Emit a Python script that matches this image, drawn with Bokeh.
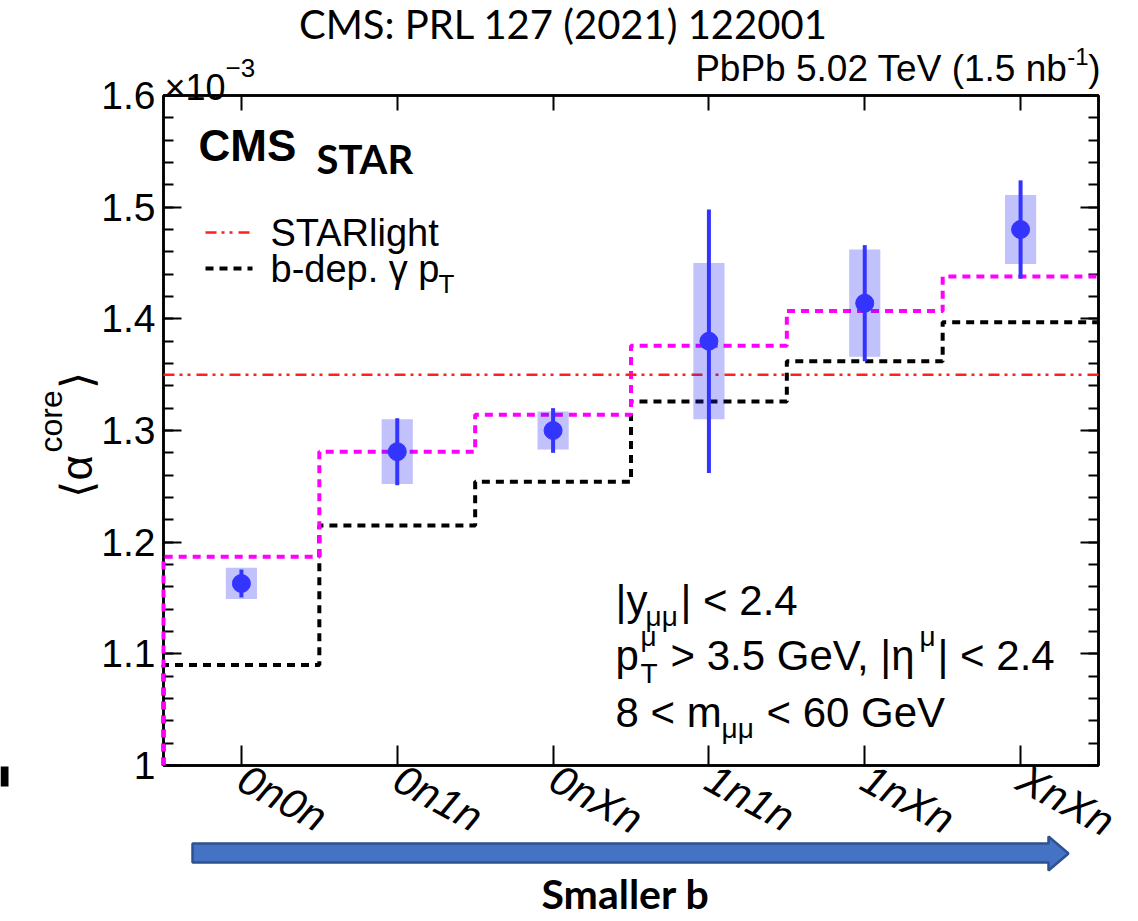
import numpy as np
from bokeh.plotting import figure
from bokeh.models import (Range1d, LinearAxis, FixedTicker, CustomJSTickFormatter,
                          Label, GridBox, Column)
from bokeh.embed import file_html
from bokeh.resources import INLINE

# ---- data: <alpha^core> in units of 1e-3 per neutron class ----
categories = ["0n0n", "0n1n", "0nXn", "1n1n", "1nXn", "XnXn"]
alpha_core = [1.163, 1.281, 1.300, 1.380, 1.414, 1.480]
stat_err = [0.0125, 0.030, 0.020, 0.118, 0.052, 0.044]
syst_err = [0.014, 0.029, 0.017, 0.070, 0.048, 0.031]
starlight = [1.35, 1.35]
bdep_gamma_pt = [1.090, 1.215, 1.254, 1.326, 1.362, 1.397]
star_model = [1.187, 1.281, 1.314, 1.376, 1.407, 1.438]
y_ticks = [1.0, 1.1, 1.2, 1.3, 1.4, 1.5, 1.6]
y_tick_labels = ["1", "1.1", "1.2", "1.3", "1.4", "1.5", "1.6"]

W, H = 1138, 921
LEFT, RIGHT, TOP, BOTTOM = 163, 1098, 95, 765
Y0, Y1 = 1.0, 1.6
nbin = len(categories)
HELV = "Liberation Sans"
RED = "#ff2020"
MAGENTA = "#ff00ff"
BLUE = "#3434ff"
RED_DASH = "11 5 3 5 3 6"
DOT_DASH = "8 6"

# ================= main plot =================
p = figure(width=W, height=H, x_range=Range1d(0, nbin), y_range=Range1d(Y0, Y1),
           output_backend="svg", toolbar_location=None,
           x_axis_location=None, y_axis_location=None,
           min_border_left=LEFT, min_border_right=W - RIGHT,
           min_border_top=TOP, min_border_bottom=H - BOTTOM)
p.grid.visible = False
p.outline_line_color = "black"
p.outline_line_width = 2.5
p.background_fill_color = "white"
p.border_fill_color = "white"

centers = np.arange(nbin) + 0.5
minor = [round(v, 3) for v in np.arange(1.0, 1.6001, 0.02)]

axis_style = dict(axis_line_color="black", axis_line_width=2.5,
                  major_tick_line_color="black", major_tick_line_width=2,
                  minor_tick_line_color="black", minor_tick_line_width=2,
                  major_tick_out=0, minor_tick_out=0,
                  major_label_text_color="black")

bottom_axis = LinearAxis(
    ticker=FixedTicker(ticks=list(centers)),
    formatter=CustomJSTickFormatter(args=dict(names=categories),
                                    code="return names[Math.floor(tick)];"),
    major_tick_in=20, minor_tick_in=0,
    major_label_text_font=HELV, major_label_text_font_style="italic",
    major_label_text_font_size="42px", major_label_orientation=-0.5,
    major_label_standoff=10, **axis_style)
p.add_layout(bottom_axis, "below")

top_axis = LinearAxis(
    ticker=FixedTicker(ticks=list(centers)),
    formatter=CustomJSTickFormatter(code="return '';"),
    major_tick_in=15, minor_tick_in=0, major_label_text_font_size="1px",
    **axis_style)
p.add_layout(top_axis, "above")

left_axis = LinearAxis(
    ticker=FixedTicker(ticks=y_ticks, minor_ticks=minor),
    formatter=CustomJSTickFormatter(
        args=dict(yt=y_ticks, ylab=y_tick_labels),
        code="const i = yt.findIndex(t => Math.abs(t - tick) < 1e-6); return i >= 0 ? ylab[i] : '';"),
    major_tick_in=18, minor_tick_in=10,
    major_label_text_font=HELV, major_label_text_font_size="39px",
    major_label_standoff=8, **axis_style)
p.add_layout(left_axis, "left")

right_axis = LinearAxis(
    ticker=FixedTicker(ticks=y_ticks, minor_ticks=minor),
    formatter=CustomJSTickFormatter(code="return '';"),
    major_tick_in=18, minor_tick_in=10, major_label_text_font_size="1px",
    **axis_style)
p.add_layout(right_axis, "right")

# model curves (histogram-style steps starting from the lower edge)
edges = np.arange(nbin + 1)
step_x = np.repeat(edges, 2)[:-1]


def step_y(v):
    return np.concatenate([[Y0], np.repeat(v, 2)])


p.line(step_x, step_y(bdep_gamma_pt), line_color="black", line_width=4,
       line_dash=DOT_DASH, level="overlay")
p.line(step_x, step_y(star_model), line_color=MAGENTA, line_width=4,
       line_dash=DOT_DASH, level="overlay")
p.line([edges[0], edges[-1]], starlight, line_color=RED, line_width=2.5,
       line_dash=RED_DASH, level="overlay")

# measurement: systematic boxes, statistical bars, points
a = np.array(alpha_core)
st = np.array(stat_err)
sy = np.array(syst_err)
p.quad(left=centers - 0.1, right=centers + 0.1, bottom=a - sy, top=a + sy,
       fill_color="#2020f0", fill_alpha=0.28, line_color=None, level="overlay")
p.segment(centers, a - st, centers, a + st, line_color=BLUE, line_width=4,
          level="overlay")
p.scatter(centers, a, size=18, marker="circle", fill_color=BLUE, line_color=BLUE,
          level="overlay")

# ================= text / decoration layer (pixel coordinates) =================
ov = figure(width=W, height=H, x_range=Range1d(0, W), y_range=Range1d(H, 0),
            output_backend="svg", toolbar_location=None,
            x_axis_location=None, y_axis_location=None,
            min_border_left=0, min_border_right=0, min_border_top=0,
            min_border_bottom=0)
ov.grid.visible = False
ov.outline_line_color = None
ov.background_fill_color = None
ov.border_fill_color = None


def label(x, y, text, size, font=HELV, style="normal", align="left",
          baseline="middle", color="black", angle=0.0):
    ov.add_layout(Label(x=x, y=y, text=text, text_font=font,
                        text_font_size=f"{size}px", text_font_style=style,
                        text_align=align, text_baseline=baseline,
                        text_color=color, angle=angle))


label(563, 23, "CMS: PRL 127 (2021) 122001", 40, font="Lato", align="center")
label(1100, 68, ")", 37, align="right")
label(1088, 56, "-1", 24, align="right")
label(1067, 68, "PbPb 5.02 TeV (1.5 nb", 37, align="right")
label(164, 87, "\u00d710", 36, baseline="alphabetic")
label(225, 67, "\u22123", 26, baseline="alphabetic")

label(198, 145, "CMS", 44, style="bold")
label(316, 158, "STAR", 40, font="Lato", style="bold")

# legend
ov.line([205, 252], [232, 232], line_color=RED, line_width=2.5, line_dash=RED_DASH)
ov.line([205, 252], [268, 268], line_color="black", line_width=4, line_dash=DOT_DASH)
label(270, 232, "STARlight", 38)
label(270, 268, "b-dep. \u03b3 p", 38)
label(438, 283, "T", 26)

# selection annotation
label(615, 600, "|y", 42)
label(645, 616, "\u03bc\u03bc", 28)
label(680, 600, "| < 2.4", 42)
label(615, 655, "p", 42)
label(640, 673, "T", 28)
label(640, 636, "\u03bc", 28)
label(670, 655, "> 3.5 GeV, |\u03b7", 42)
label(919, 636, "\u03bc", 28)
label(937, 655, "| < 2.4", 42)
label(615, 712, "8 < m", 42)
label(721, 728, "\u03bc\u03bc", 28)
label(766, 712, "< 60 GeV", 42)

# y-axis title, reading upwards
half_pi = np.pi / 2
label(76, 497, "\u27e8\u03b1", 44, baseline="alphabetic", angle=half_pi)
label(50, 452, "core", 32, baseline="alphabetic", angle=half_pi)
label(76, 388, "\u27e9", 44, baseline="alphabetic", angle=half_pi)

# arrow under the categories
ov.patch([192, 1048, 1048, 1068, 1048, 1048, 192],
         [843, 843, 836, 853, 870, 862, 862],
         fill_color="#4472c4", line_color="#2f528f", line_width=2.5)
ov.quad(left=[0], right=[8], top=[766], bottom=[786], fill_color="black", line_color=None)
label(625, 893, "Smaller b", 41, font="Lato", style="bold", align="center")

layout = GridBox(children=[(Column(children=[p]), 0, 0),
                           (Column(children=[ov]), 0, 0)])
open("out.html", "w").write(file_html(layout, INLINE))
